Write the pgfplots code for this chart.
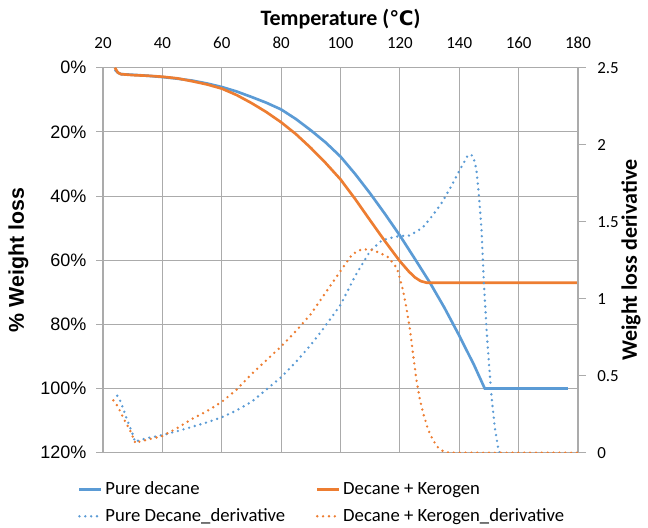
\documentclass[border=0pt]{standalone}
\usepackage{pgfplots}
\pgfplotsset{compat=1.18}
\usepackage{fontspec}
\setmainfont{Carlito}
\newfontfamily\arial{Liberation Sans}
\newfontfamily\dejavu{DejaVu Sans}
\definecolor{cblue}{HTML}{5B9BD5}
\definecolor{corange}{HTML}{ED7D31}
\definecolor{gridgray}{HTML}{ABABAB}
\pgfplotsset{
  common/.style={
    at={(77.25pt,55.7pt)}, anchor=south west,
    scale only axis, width=356.25pt, height=288.75pt,
    xmin=20, xmax=180,
    /pgf/number format/assume math mode=true,
  },
  dotline/.style={line width=2pt, line cap=round, dash pattern=on 0pt off 4.4pt},
}
\begin{document}
\begin{tikzpicture}
\path[use as bounding box] (0,0) rectangle (486pt,395.25pt);
\begin{axis}[common,
  xtick={20,40,...,180},
  xtick pos=right, xticklabel pos=right,
  ymin=0, ymax=120, y dir=reverse,
  ytick={0,20,...,120}, ytick pos=left,
  yticklabel={\pgfmathprintnumber{\tick}\%},
  yticklabel style={font=\arial\fontsize{13.5pt}{16pt}\selectfont, xshift=-4pt},
  xticklabel style={font=\fontsize{12.7pt}{15pt}\selectfont, yshift=6pt},
  tick align=outside, major tick length=5pt,
  xtick style={draw=none},
  ytick style={gridgray, line width=0.8pt},
  grid=major, major grid style={gridgray, line width=0.8pt},
  axis line style={gridgray, line width=0.8pt},
  xlabel={\bfseries Temperature ({\dejavu\fontsize{15pt}{18pt}\selectfont ℃})},
  xlabel style={font=\fontsize{16.5pt}{19pt}\selectfont, yshift=-1pt},
  ylabel={\arial\bfseries \% Weight loss},
  ylabel style={font=\fontsize{16pt}{19pt}\selectfont, yshift=2pt},
  clip=false,
]
\addplot[cblue, line width=2pt] coordinates {
(24,0.6) (25,1.5) (26,2) (30,2.2) (35,2.5) (40,2.9) (45,3.4) (50,4) (55,4.9) (60,6) (65,7.4) (70,9.1) (75,10.9) (80,13) (85,16) (90,19.5) (95,23.3) (100,27.7) (105,33.2) (110,39.2) (115,45.6) (120,52.3) (125,59.5) (130,66.8) (135,74.8) (140,83.5) (145,92.7) (148.6,100) (176.6,100)
};
\addplot[corange, line width=2pt] coordinates {
(24,0) (25,1.5) (26,2) (30,2.3) (35,2.5) (40,2.8) (45,3.3) (50,4.2) (55,5.2) (60,6.5) (65,8.5) (70,11) (75,13.8) (80,17) (85,20.7) (90,25) (95,29.7) (100,34.8) (105,41) (110,47.6) (115,54.1) (120,60.3) (123,63.5) (125,65.3) (127,66.5) (129,67) (180,67)
};
\end{axis}
\begin{axis}[common,
  axis x line=none,
  axis y line*=right,
  ymin=0, ymax=2.5, ytick={0,0.5,...,2.5},
  yticklabel style={font=\fontsize{12.7pt}{15pt}\selectfont, xshift=5pt},
  tick align=outside, major tick length=6pt,
  ytick style={gridgray, line width=0.8pt},
  axis line style={gridgray, line width=0.8pt},
  ylabel={\bfseries Weight loss derivative},
  ylabel style={font=\fontsize{16.5pt}{19pt}\selectfont, yshift=5pt},
  legend columns=2,
  legend cell align=left,
  legend style={at={(-0.053,-0.068)}, anchor=north west, draw=none, fill=none,
    font=\fontsize{14pt}{17pt}\selectfont, inner sep=0pt,
    row sep=5pt,
    /tikz/every even column/.append style={column sep=21pt}},
  legend image code/.code={\draw[#1] (0pt,0pt) -- (16.5pt,0pt);},
]
\addlegendimage{cblue, line width=2pt}
\addlegendentry{Pure decane}
\addlegendimage{corange, line width=2pt}
\addlegendentry{Decane + Kerogen}
\addplot[cblue, dotline] coordinates {
(24.8,0.37) (26,0.33) (28,0.22) (30,0.12) (30.8,0.07) (32,0.08) (35,0.095) (40,0.115) (45,0.14) (50,0.168) (55,0.197) (60,0.23) (65,0.275) (70,0.33) (75,0.41) (80,0.49) (85,0.59) (90,0.7) (94,0.8) (100,0.96) (105,1.15) (110,1.31) (114,1.38) (118,1.40) (120,1.407) (123,1.41) (126,1.44) (128,1.47) (131,1.54) (134,1.62) (137,1.72) (140,1.83) (142,1.9) (143,1.935) (144.4,1.93) (145.2,1.89) (145.8,1.83) (146.5,1.7) (147.5,1.45) (148.3,1.1) (149.2,0.8) (150,0.58) (150.9,0.36) (152,0.16) (153.2,0.02) (153.6,0)
};
\addlegendentry{Pure Decane\_derivative}
\addplot[corange, dotline] coordinates {
(23.5,0.34) (25,0.3) (27,0.22) (29,0.15) (31,0.06) (32,0.07) (35,0.085) (40,0.108) (45,0.16) (50,0.22) (55,0.27) (60,0.33) (65,0.41) (70,0.51) (75,0.6) (80,0.69) (85,0.79) (90,0.9) (95,1.04) (100,1.18) (104,1.29) (107,1.32) (110,1.32) (113,1.30) (116,1.27) (119,1.2) (121,1.06) (122.3,0.93) (123.4,0.8) (124.5,0.63) (125.6,0.47) (126.7,0.35) (127.8,0.26) (129.5,0.15) (131.2,0.08) (133,0.03) (135,0.005) (137,0) (180,0)
};
\addlegendentry{Decane + Kerogen\_derivative}
\end{axis}
\end{tikzpicture}
\end{document}
